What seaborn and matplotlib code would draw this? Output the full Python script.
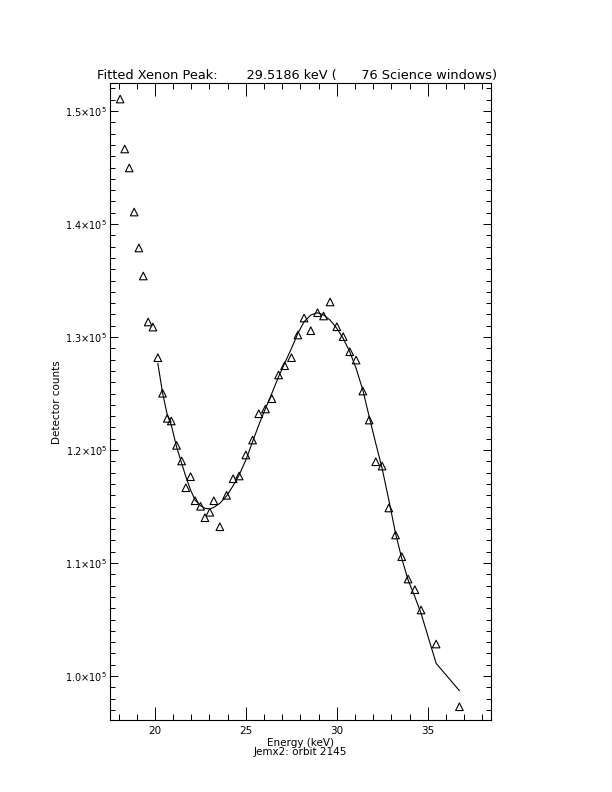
import matplotlib
matplotlib.use("Agg")
import matplotlib.pyplot as plt
from matplotlib.ticker import MultipleLocator, FuncFormatter
import seaborn as sns
import pandas as pd


# measured spectrum (energy in keV, detector counts)
energy = [18.09, 18.34, 18.59, 18.86, 19.12, 19.36, 19.63, 19.89, 20.16, 20.42,
          20.68, 20.90, 21.19, 21.47, 21.70, 21.96, 22.21, 22.51, 22.75, 23.02,
          23.24, 23.57, 23.94, 24.30, 24.63, 25.00, 25.37, 25.71, 26.08, 26.43,
          26.80, 27.13, 27.51, 27.86, 28.20, 28.57, 28.94, 29.27, 29.63, 30.00,
          30.35, 30.71, 31.06, 31.43, 31.78, 32.14, 32.49, 32.86, 33.23, 33.57,
          33.92, 34.29, 34.63, 35.46, 36.74]
counts = [151060, 146640, 144960, 141060, 137880, 135400, 131330, 130880, 128170, 125020,
          122800, 122570, 120410, 119030, 116660, 117640, 115510, 115020, 114010, 114490,
          115510, 113210, 115990, 117460, 117700, 119560, 120880, 123210, 123630, 124540,
          126640, 127460, 128170, 130180, 131680, 130560, 132150, 131860, 133100, 130910,
          130030, 128700, 127960, 125220, 122650, 118960, 118580, 114870, 112480, 110560,
          108580, 107640, 105840, 102830, 97280]

# fitted model, evaluated at the energies from 20.16 keV on
fit_energy = energy[8:]
fit_counts = [127670, 125070, 123100, 122210, 120290, 118820, 117640, 116460, 115570, 115070,
              114840, 114780, 114930, 115280, 115930, 116840, 117790, 119120, 120740, 122210,
              123690, 125020, 126490, 127670, 129000, 130330, 131350, 131950, 132150, 131950,
              131500, 130770, 129880, 128700, 127230, 125310, 122950, 120590, 118380, 115570,
              112620, 110410, 108490, 107010, 105550, 101120, 98700]

peak_energy = 29.5186
n_windows = 76
orbit = 2145

df = pd.DataFrame({"energy": energy, "counts": counts})
df_fit = pd.DataFrame({"energy": fit_energy, "counts": fit_counts})

sns.set_style("white")
plt.rcParams["font.family"] = ["DejaVu Sans"]
# plain black text everywhere, like the original plot
plt.rcParams.update({"text.color": "black", "axes.labelcolor": "black",
                     "xtick.color": "black", "ytick.color": "black"})

fig = plt.figure(figsize=(6.12, 7.92), dpi=100)
ax = fig.add_axes([0.1797, 0.0909, 0.6221, 0.8039])

sns.scatterplot(data=df, x="energy", y="counts", marker="^", s=30,
                facecolor="none", edgecolor="black", linewidth=0.8, ax=ax)
sns.lineplot(data=df_fit, x="energy", y="counts", color="black", linewidth=0.8,
             sort=False, estimator=None, ax=ax)

ax.set_xlim(17.53, 38.46)
ax.set_ylim(96106, 152451)

ax.xaxis.set_major_locator(MultipleLocator(5))
ax.xaxis.set_minor_locator(MultipleLocator(1))
ax.yaxis.set_major_locator(MultipleLocator(10000))
ax.yaxis.set_minor_locator(MultipleLocator(1000))
ax.yaxis.set_major_formatter(FuncFormatter(lambda v, p: f"{v/1e5:.1f}×10$^5$"))

ax.tick_params(axis="x", which="major", direction="in", length=9.4, width=0.7,
               top=True, bottom=True, labelsize=7.5, pad=4)
ax.tick_params(axis="x", which="minor", direction="in", length=4, width=0.7,
               top=True, bottom=True)
ax.tick_params(axis="y", which="major", direction="in", length=5.8, width=0.7,
               left=True, right=True, labelsize=7, pad=2)
ax.tick_params(axis="y", which="minor", direction="in", length=3.4, width=0.7,
               left=True, right=True)
for sp in ax.spines.values():
    sp.set_linewidth(0.8)
    sp.set_color("black")

ax.set_xlabel("Energy (keV)\nJemx2: orbit %d" % orbit, fontsize=7.5, linespacing=0.85,
              labelpad=2)
ax.set_ylabel("Detector counts", fontsize=7.5, labelpad=2)

fig.text(0.4853, 1 - 75 / 792,
         "Fitted Xenon Peak:       %.4f keV (      %d Science windows)" % (peak_energy, n_windows),
         ha="center", va="center", fontsize=9.3)

fig.savefig("out.png", dpi=100, facecolor="white")
